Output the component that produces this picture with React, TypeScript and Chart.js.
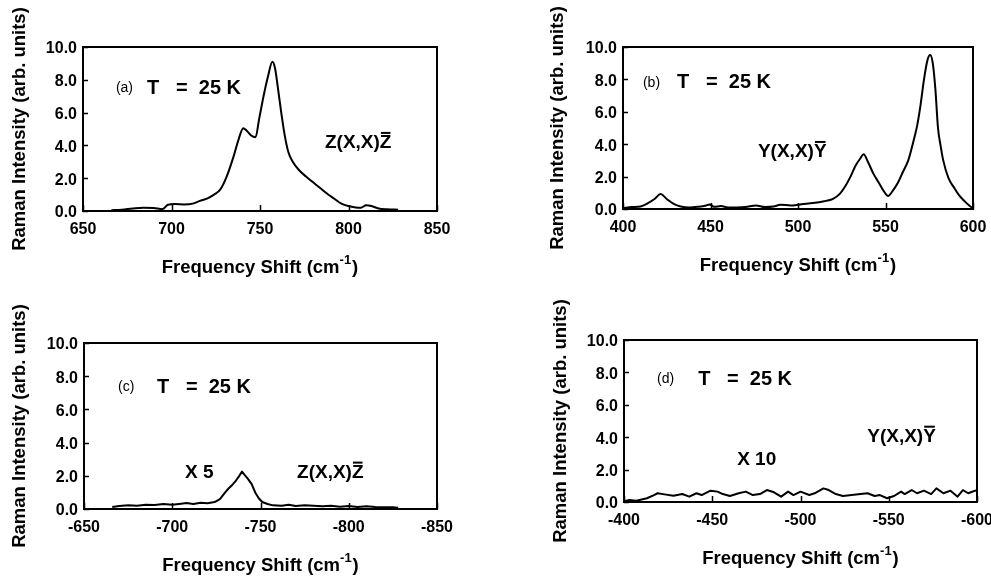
import React, { useEffect, useRef } from "react";
import { Chart, registerables } from "chart.js";

Chart.register(...registerables);

const FONT = "'Liberation Sans', Arial, Helvetica, sans-serif";
const INK = "#000000";

// (a) Z(X,X)Z̄ scattering, Stokes side
const shiftA = [666, 672, 678, 684, 690, 695, 698, 702, 707, 712, 716, 720, 724, 727.5, 731, 735, 738, 740.5, 742.5, 745, 747.5, 749.5, 752, 754.5, 757, 758.5, 760, 762, 764, 766, 768.5, 772, 776, 780, 784, 788, 792, 796, 800, 804, 807, 810, 813, 817, 822, 828];
const intensityA = [0.05, 0.08, 0.15, 0.2, 0.18, 0.12, 0.38, 0.42, 0.4, 0.45, 0.62, 0.75, 1.0, 1.3, 2.05, 3.3, 4.4, 5.05, 4.9, 4.6, 4.5, 5.6, 7.0, 8.2, 9.1, 8.7, 7.6, 6.0, 4.6, 3.6, 3.0, 2.5, 2.1, 1.75, 1.4, 1.05, 0.75, 0.45, 0.3, 0.22, 0.2, 0.35, 0.3, 0.15, 0.1, 0.08];
const xTicksA = [650, 700, 750, 800, 850];

// (b) Y(X,X)Ȳ scattering, Stokes side
const shiftB = [400, 405, 410, 414, 418, 421.5, 425, 429, 433, 438, 443, 447, 449.5, 452, 456, 460, 465, 470, 476, 481, 486, 490, 493, 497, 502, 507, 512, 516, 520, 524, 527, 530, 533, 535.5, 537.5, 540, 543, 546, 549, 551.5, 554, 557, 560, 563, 566, 568, 570, 572, 574, 575.5, 577, 578.5, 580, 581.5, 583, 586, 589, 592, 595, 598, 600];
const intensityB = [0.05, 0.12, 0.16, 0.35, 0.62, 0.92, 0.62, 0.32, 0.16, 0.1, 0.14, 0.2, 0.28, 0.14, 0.18, 0.1, 0.1, 0.12, 0.22, 0.12, 0.15, 0.26, 0.25, 0.22, 0.3, 0.35, 0.42, 0.5, 0.62, 0.95, 1.4, 2.0, 2.7, 3.1, 3.38, 2.9, 2.2, 1.65, 1.1, 0.8, 1.1, 1.6, 2.3, 3.0, 4.2, 5.1, 6.4, 8.0, 9.2, 9.5, 9.0, 7.4, 5.0, 3.9, 3.0, 1.9, 1.35, 0.85, 0.5, 0.2, 0.05];
const xTicksB = [400, 450, 500, 550, 600];

// (c) Z(X,X)Z̄ scattering, anti-Stokes side (scaled x5)
const shiftC = [-666, -670, -675, -680, -685, -690, -695, -700, -705, -708, -712, -716, -720, -724, -727, -730, -732, -734, -736, -738, -739.5, -741, -743, -745, -747, -749, -751, -754, -757, -762, -766, -770, -775, -780, -785, -790, -795, -800, -805, -810, -815, -820, -825, -828];
const intensityC = [0.12, 0.18, 0.22, 0.2, 0.25, 0.24, 0.3, 0.26, 0.32, 0.36, 0.3, 0.38, 0.34, 0.42, 0.6, 1.0, 1.25, 1.45, 1.7, 2.0, 2.25, 2.05, 1.8, 1.5, 1.0, 0.65, 0.42, 0.3, 0.22, 0.2, 0.26, 0.18, 0.22, 0.2, 0.16, 0.2, 0.14, 0.18, 0.12, 0.16, 0.12, 0.1, 0.1, 0.08];
const xTicksC = [-650, -700, -750, -800, -850];

// (d) Y(X,X)Ȳ scattering, anti-Stokes side (scaled x10)
const shiftD = [-400, -403, -407, -413, -417, -419, -423, -428, -433, -437, -441, -444, -449, -453, -456, -460, -465, -469, -473, -477, -481, -485, -489, -493, -496, -500, -505, -508, -513, -516, -520, -524, -529, -534, -538, -542, -545, -549, -553, -557, -559, -563, -566, -570, -574, -577, -581, -585, -589, -592, -595, -599, -600];
const intensityD = [0.05, 0.12, 0.08, 0.23, 0.43, 0.54, 0.47, 0.39, 0.49, 0.33, 0.54, 0.43, 0.7, 0.64, 0.49, 0.37, 0.54, 0.64, 0.43, 0.49, 0.74, 0.6, 0.33, 0.64, 0.43, 0.64, 0.43, 0.54, 0.84, 0.74, 0.49, 0.37, 0.43, 0.49, 0.54, 0.37, 0.43, 0.23, 0.37, 0.64, 0.49, 0.74, 0.54, 0.7, 0.49, 0.84, 0.54, 0.7, 0.33, 0.74, 0.54, 0.7, 0.72];
const xTicksD = [-400, -450, -500, -550, -600];

const yTicks = [0, 2, 4, 6, 8, 10];
const yTickLabels = ["0.0", "2.0", "4.0", "6.0", "8.0", "10.0"];

const Y_TITLE = "Raman Intensity (arb. units)";
const X_TITLE_MAIN = "Frequency Shift (cm";
const X_TITLE_SUP = "-1";
const X_TITLE_END = ")";

const TICK_SIZE = 16;
const TITLE_SIZE = 18.5;

interface Note {
  text: string;
  x: number;
  y: number;
  size: number;
  bold: boolean;
  bar?: boolean;
}

interface Panel {
  left: number;
  top: number;
  w: number;
  h: number;
  area: { l: number; t: number; r: number; b: number };
  yTitleCenter: number;
  xs: number[];
  ys: number[];
  xMin: number;
  xMax: number;
  reverse: boolean;
  xTicks: number[];
  smooth: boolean;
  notes: Note[];
}

const PANELS: Panel[] = [
  {
    left: 0, top: 0, w: 495, h: 289,
    area: { l: 83, t: 47, r: 437, b: 211 },
    yTitleCenter: 20,
    xs: shiftA, ys: intensityA, xMin: 650, xMax: 850, reverse: false, xTicks: xTicksA, smooth: true,
    notes: [
      { text: "(a)", x: 668.6, y: 7.5, size: 14, bold: false },
      { text: "T   =  25 K", x: 686.2, y: 7.5, size: 20, bold: true },
      { text: "Z(X,X)Z", x: 786.7, y: 4.15, size: 19, bold: true, bar: true },
    ],
  },
  {
    left: 495, top: 0, w: 496, h: 289,
    area: { l: 128, t: 47, r: 478, b: 209 },
    yTitleCenter: 63,
    xs: shiftB, ys: intensityB, xMin: 400, xMax: 600, reverse: false, xTicks: xTicksB, smooth: true,
    notes: [
      { text: "(b)", x: 411.4, y: 7.78, size: 14, bold: false },
      { text: "T   =  25 K", x: 430.9, y: 7.78, size: 20, bold: true },
      { text: "Y(X,X)Y", x: 477.1, y: 3.52, size: 19, bold: true, bar: true },
    ],
  },
  {
    left: 0, top: 289, w: 495, h: 289,
    area: { l: 84, t: 54, r: 437, b: 220 },
    yTitleCenter: 20,
    xs: shiftC, ys: intensityC, xMin: -850, xMax: -650, reverse: true, xTicks: xTicksC, smooth: false,
    notes: [
      { text: "(c)", x: -669.3, y: 7.35, size: 14, bold: false },
      { text: "T   =  25 K", x: -691.4, y: 7.35, size: 20, bold: true },
      { text: "X 5", x: -707.2, y: 2.19, size: 19, bold: true },
      { text: "Z(X,X)Z", x: -770.7, y: 2.19, size: 19, bold: true, bar: true },
    ],
  },
  {
    left: 495, top: 289, w: 496, h: 289,
    area: { l: 129, t: 51, r: 482, b: 213 },
    yTitleCenter: 66,
    xs: shiftD, ys: intensityD, xMin: -600, xMax: -400, reverse: true, xTicks: xTicksD, smooth: false,
    notes: [
      { text: "(d)", x: -418.7, y: 7.59, size: 14, bold: false },
      { text: "T   =  25 K", x: -442.0, y: 7.59, size: 20, bold: true },
      { text: "Y(X,X)Y", x: -537.8, y: 4.03, size: 19, bold: true, bar: true },
      { text: "X 10", x: -464.1, y: 2.59, size: 19, bold: true },
    ],
  },
];

function panelDecor(p: Panel) {
  return {
    id: "panelDecor",
    afterDraw(chart: any) {
      const { ctx, chartArea: a, scales } = chart;
      ctx.save();
      ctx.strokeStyle = INK;
      ctx.fillStyle = INK;

      // inward tick marks on the bottom and left edges
      ctx.lineWidth = 1.5;
      ctx.beginPath();
      for (const t of scales.x.ticks) {
        const px = Math.round(scales.x.getPixelForValue(t.value)) + 0.5;
        ctx.moveTo(px, a.bottom);
        ctx.lineTo(px, a.bottom - 6);
      }
      for (const t of scales.y.ticks) {
        const py = Math.round(scales.y.getPixelForValue(t.value)) + 0.5;
        ctx.moveTo(a.left, py);
        ctx.lineTo(a.left + 5, py);
      }
      ctx.stroke();

      // plot frame
      ctx.lineWidth = 2;
      ctx.strokeRect(a.left, a.top, a.right - a.left, a.bottom - a.top);

      // in-plot labels, placed in data coordinates
      ctx.textAlign = "left";
      ctx.textBaseline = "middle";
      for (const n of p.notes) {
        ctx.font = `${n.bold ? "bold " : ""}${n.size}px ${FONT}`;
        const px = scales.x.getPixelForValue(n.x);
        const py = scales.y.getPixelForValue(n.y);
        ctx.fillText(n.text, px, py);
        if (n.bar) {
          const head = ctx.measureText(n.text.slice(0, -1)).width;
          const last = ctx.measureText(n.text.slice(-1)).width;
          const oy = py - n.size * 0.37 - 3;
          ctx.lineWidth = 2;
          ctx.beginPath();
          ctx.moveTo(px + head + 1, oy);
          ctx.lineTo(px + head + last - 1, oy);
          ctx.stroke();
        }
      }

      // x-axis title with superscript
      const mainFont = `bold ${TITLE_SIZE}px ${FONT}`;
      const supFont = `bold 13px ${FONT}`;
      ctx.textBaseline = "alphabetic";
      ctx.font = mainFont;
      const w1 = ctx.measureText(X_TITLE_MAIN).width;
      const w3 = ctx.measureText(X_TITLE_END).width;
      ctx.font = supFont;
      const w2 = ctx.measureText(X_TITLE_SUP).width;
      const cx = (a.left + a.right) / 2;
      const base = a.bottom + 62;
      let x = cx - (w1 + w2 + w3 + 1) / 2;
      ctx.font = mainFont;
      ctx.fillText(X_TITLE_MAIN, x, base);
      x += w1;
      ctx.font = supFont;
      ctx.fillText(X_TITLE_SUP, x, base - 9);
      x += w2 + 1;
      ctx.font = mainFont;
      ctx.fillText(X_TITLE_END, x, base);
      ctx.restore();
    },
  };
}

function buildConfig(p: Panel): any {
  const padLeft = p.yTitleCenter - (TITLE_SIZE * 1.2) / 2;
  const tickFont = { family: FONT, size: TICK_SIZE, weight: "bold" };
  return {
    type: "line",
    data: {
      datasets: [
        {
          data: p.xs.map((x, i) => ({ x, y: p.ys[i] })),
          borderColor: INK,
          borderWidth: 2,
          pointRadius: 0,
          fill: false,
          tension: 0,
          borderJoinStyle: "round",
          cubicInterpolationMode: p.smooth ? "monotone" : "default",
        },
      ],
    },
    options: {
      animation: false,
      responsive: false,
      events: [],
      layout: {
        padding: { left: padLeft, top: p.area.t, right: p.w - p.area.r, bottom: 0 },
      },
      plugins: {
        legend: { display: false },
        tooltip: { enabled: false },
        title: { display: false },
      },
      scales: {
        x: {
          type: "linear",
          position: "bottom",
          min: p.xMin,
          max: p.xMax,
          reverse: p.reverse,
          afterBuildTicks: (s: any) => {
            s.ticks = p.xTicks.map((v) => ({ value: v }));
          },
          afterFit: (s: any) => {
            s.height = p.h - p.area.b;
            s.paddingLeft = 0;
            s.paddingRight = 0;
          },
          ticks: {
            font: tickFont,
            color: INK,
            padding: 9,
            maxRotation: 0,
            autoSkip: false,
            callback: (v: number) => String(v),
          },
          grid: { display: false, drawTicks: false },
          border: { display: false },
        },
        y: {
          type: "linear",
          position: "left",
          min: 0,
          max: 10,
          afterBuildTicks: (s: any) => {
            s.ticks = yTicks.map((v) => ({ value: v }));
          },
          afterFit: (s: any) => {
            s.width = p.area.l - padLeft;
          },
          ticks: {
            font: tickFont,
            color: INK,
            padding: 6,
            labelOffset: 2,
            callback: (_v: number, i: number) => yTickLabels[i],
          },
          grid: { display: false, drawTicks: false },
          border: { display: false },
          title: {
            display: true,
            text: Y_TITLE,
            color: INK,
            padding: 0,
            font: { family: FONT, size: TITLE_SIZE, weight: "bold" },
          },
        },
      },
    },
    plugins: [panelDecor(p)],
  };
}

export default function App() {
  const canvases = useRef<(HTMLCanvasElement | null)[]>([]);

  useEffect(() => {
    const charts = PANELS.map((p, i) => new Chart(canvases.current[i] as HTMLCanvasElement, buildConfig(p)));
    return () => charts.forEach((c) => c.destroy());
  }, []);

  return (
    <div
      style={{
        position: "fixed",
        left: 0,
        top: 0,
        width: 991,
        height: 578,
        background: "#ffffff",
        overflow: "hidden",
      }}
    >
      {PANELS.map((p, i) => (
        <canvas
          key={i}
          ref={(el) => {
            canvases.current[i] = el;
          }}
          width={p.w}
          height={p.h}
          style={{ position: "absolute", left: p.left, top: p.top, width: p.w, height: p.h }}
        />
      ))}
    </div>
  );
}
